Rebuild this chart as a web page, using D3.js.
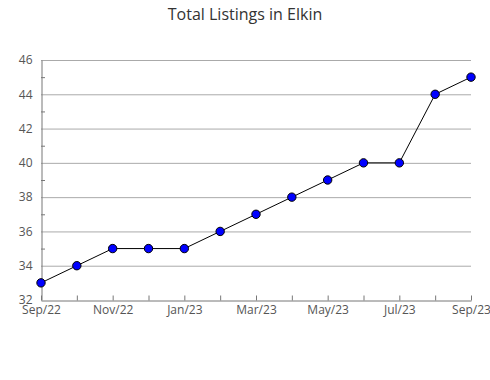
<!DOCTYPE html>
<html><head><meta charset="utf-8">
<script src="https://cdn.jsdelivr.net/npm/d3@7"></script>
<style>body{margin:0;background:#fff;} text{font-family:"Open Sans",sans-serif;}</style>
</head><body>
<svg id="c" width="490" height="380"></svg>
<script>
const months = ["Sep/22","Oct/22","Nov/22","Dec/22","Jan/23","Feb/23","Mar/23","Apr/23","May/23","Jun/23","Jul/23","Aug/23","Sep/23"];
const values = [33,34,35,35,35,36,37,38,39,40,40,44,45];
const yTicks = [32,34,36,38,40,42,44,46];
const yMinor = [33,35,37,39,41,43,45];
const xLabels = ["Sep/22","Nov/22","Jan/23","Mar/23","May/23","Jul/23","Sep/23"];

const svg = d3.select("#c");
const m = {l:41, r:471, t:60, b:300};
const x = d3.scalePoint().domain(months).range([m.l, m.r]);
const y = d3.scaleLinear().domain([32,46]).range([m.b, m.t]);

svg.append("text").attr("x",245).attr("y",20).attr("text-anchor","middle")
  .attr("font-size",16).attr("fill","#333").text("Total Listings in Elkin");

// gridlines
svg.append("g").selectAll("line").data(yTicks.slice(1)).join("line")
  .attr("x1",m.l).attr("x2",m.r).attr("y1",d=>y(d)+0.5).attr("y2",d=>y(d)+0.5)
  .attr("stroke","#aaa").attr("stroke-width",1);

// minor ticks
svg.append("g").selectAll("line").data(yMinor).join("line")
  .attr("x1",m.l).attr("x2",m.l+4).attr("y1",d=>y(d)+0.5).attr("y2",d=>y(d)+0.5)
  .attr("stroke","#777");

// y axis
const ya = svg.append("g").attr("transform",`translate(${m.l+0.5},0)`)
  .call(d3.axisLeft(y).tickValues(yTicks).tickSize(0).tickPadding(9));
ya.select(".domain").attr("stroke","#777");
ya.selectAll("text").attr("font-size",12).attr("fill","#555").attr("font-family","Open Sans");

// x axis
const xa = svg.append("g").attr("transform",`translate(0,${m.b+0.5})`)
  .call(d3.axisBottom(x).tickSizeInner(-5).tickSizeOuter(0).tickFormat(d=>xLabels.includes(d)?d:""));
xa.select(".domain").attr("stroke","#777");
xa.selectAll(".tick line").attr("stroke","#777");
xa.selectAll("text").attr("font-size",12).attr("fill","#555").attr("font-family","Open Sans").attr("dy","0.71em").attr("y",5);

// line
svg.append("path").datum(values)
  .attr("d", d3.line().x((d,i)=>x(months[i])).y(d=>y(d)))
  .attr("fill","none").attr("stroke","#000").attr("stroke-width",1);

svg.append("g").selectAll("circle").data(values).join("circle")
  .attr("cx",(d,i)=>x(months[i])).attr("cy",d=>y(d)).attr("r",4.2)
  .attr("fill","#0000ff").attr("stroke","#000").attr("stroke-width",1);
</script>
</body></html>
